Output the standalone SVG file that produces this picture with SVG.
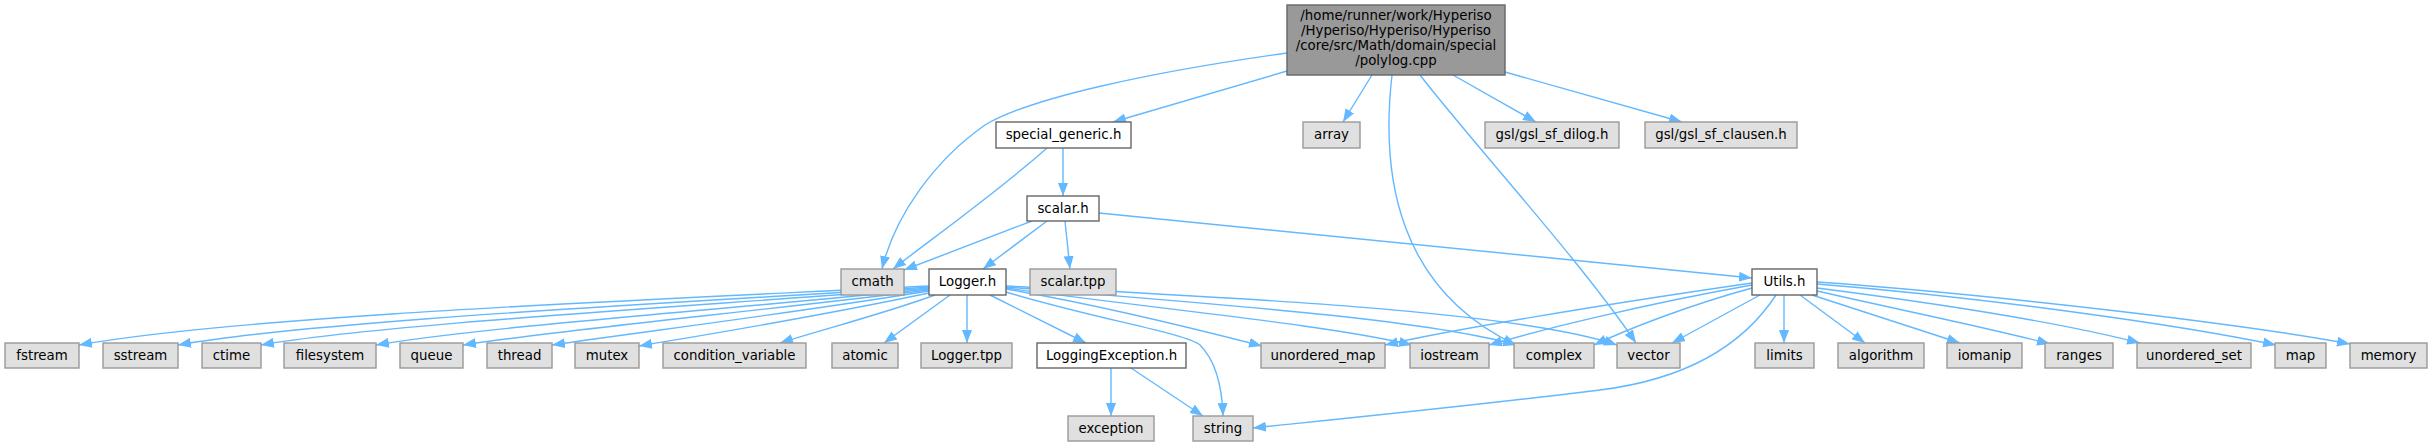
<svg xmlns="http://www.w3.org/2000/svg" width="2433" height="447" viewBox="0 0 2433 447">
<style>
text{font-family:"DejaVu Sans","Liberation Sans",sans-serif;font-size:13.33px;fill:#000;text-anchor:middle}
.w{fill:#ffffff;stroke:#666666;stroke-width:1.4}
.g{fill:#e0e0e0;stroke:#999999;stroke-width:1.4}
.m{fill:#999999;stroke:#666666;stroke-width:1.4}
.e{fill:none;stroke:#63b8ff;stroke-width:1.4;marker-end:url(#ah)}
</style>
<defs>
<marker id="ah" viewBox="0 0 13 10" refX="13" refY="5" markerWidth="13" markerHeight="10" markerUnits="userSpaceOnUse" orient="auto"><path d="M0,0 L13,5 L0,10 z" fill="#63b8ff"/></marker>
</defs>
<rect width="2433" height="447" fill="#ffffff"/>
<g id="connectors">
<path class="e" d="M1287,53 C1150,72 1030,98 985,125 C935,160 895,215 882,269"/>
<path class="e" d="M1287,71 L1113,122"/>
<path class="e" d="M1372,75 L1343,122"/>
<path class="e" d="M1392,75 C1380,180 1400,290 1516,345"/>
<path class="e" d="M1420,75 C1470,140 1580,260 1636,343"/>
<path class="e" d="M1453,75 L1536,122"/>
<path class="e" d="M1505,72 L1682,122"/>
<path class="e" d="M1047,148 C1000,190 930,240 893,269"/>
<path class="e" d="M1063,148 L1063,196"/>
<path class="e" d="M1032,221 L904,270"/>
<path class="e" d="M1047,221 L983,269"/>
<path class="e" d="M1065,221 L1070,269"/>
<path class="e" d="M1099,213 L1752,278"/>
<path class="e" d="M929,286 C650,300 250,315 79,345"/>
<path class="e" d="M929,287 C680,303 320,320 178,345"/>
<path class="e" d="M929,288 C700,306 380,324 261,345"/>
<path class="e" d="M929,289 C720,310 480,327 376,345"/>
<path class="e" d="M929,290 C750,312 560,330 463,345"/>
<path class="e" d="M929,291 C780,315 640,332 552,345"/>
<path class="e" d="M929,293 C810,318 710,334 639,346"/>
<path class="e" d="M935,295 C880,315 820,330 780,343"/>
<path class="e" d="M950,295 L884,343"/>
<path class="e" d="M967,295 L967,343"/>
<path class="e" d="M990,295 L1086,343"/>
<path class="e" d="M1006,292 C1100,320 1185,333 1200,345 C1215,360 1222,385 1223,416"/>
<path class="e" d="M1006,289 C1100,305 1200,330 1262,346"/>
<path class="e" d="M1006,288 C1150,308 1330,325 1412,345"/>
<path class="e" d="M1006,287 C1200,303 1420,318 1516,345"/>
<path class="e" d="M1006,286 C1250,298 1520,312 1617,345"/>
<path class="e" d="M1111,368 L1111,416"/>
<path class="e" d="M1131,368 L1203,416"/>
<path class="e" d="M1752,283 C1600,305 1450,330 1385,345"/>
<path class="e" d="M1752,285 C1640,305 1540,330 1489,345"/>
<path class="e" d="M1752,288 C1690,305 1630,328 1594,345"/>
<path class="e" d="M1760,295 L1672,343"/>
<path class="e" d="M1776,295 C1740,350 1680,380 1600,390 C1480,405 1330,420 1253,428"/>
<path class="e" d="M1784,295 L1784,343"/>
<path class="e" d="M1800,295 L1865,343"/>
<path class="e" d="M1812,295 L1960,343"/>
<path class="e" d="M1817,291 C1900,310 1990,328 2050,344"/>
<path class="e" d="M1817,288 C1950,305 2070,325 2140,343"/>
<path class="e" d="M1817,284 C1990,298 2180,325 2276,345"/>
<path class="e" d="M1817,282 C2000,295 2250,325 2350,344"/>
</g>
<g id="n_main"><rect class="m" x="1287" y="5" width="218" height="70"/><text x="1396" y="20">/home/runner/work/Hyperiso</text><text x="1396" y="35">/Hyperiso/Hyperiso/Hyperiso</text><text x="1396" y="50">/core/src/Math/domain/special</text><text x="1396" y="65">/polylog.cpp</text></g>
<g id="n_special_generic"><rect class="w" x="996" y="122" width="135" height="26"/><text x="1063.5" y="139">special_generic.h</text></g>
<g id="n_array"><rect class="g" x="1303" y="122" width="57" height="26"/><text x="1331.5" y="139">array</text></g>
<g id="n_gsl_dilog"><rect class="g" x="1485" y="122" width="134" height="26"/><text x="1552" y="139">gsl/gsl_sf_dilog.h</text></g>
<g id="n_gsl_clausen"><rect class="g" x="1645" y="122" width="152" height="26"/><text x="1721" y="139">gsl/gsl_sf_clausen.h</text></g>
<g id="n_scalar_h"><rect class="w" x="1027" y="196" width="72" height="25"/><text x="1063" y="212.5">scalar.h</text></g>
<g id="n_cmath"><rect class="g" x="841" y="269" width="63" height="26"/><text x="872.5" y="286">cmath</text></g>
<g id="n_logger_h"><rect class="w" x="929" y="269" width="77" height="26"/><text x="967.5" y="286">Logger.h</text></g>
<g id="n_scalar_tpp"><rect class="g" x="1030" y="269" width="86" height="26"/><text x="1073" y="286">scalar.tpp</text></g>
<g id="n_utils_h"><rect class="w" x="1752" y="269" width="65" height="26"/><text x="1784.5" y="286">Utils.h</text></g>
<g id="n_fstream"><rect class="g" x="5" y="343" width="74" height="25"/><text x="42" y="359.5">fstream</text></g>
<g id="n_sstream"><rect class="g" x="103" y="343" width="75" height="25"/><text x="140.5" y="359.5">sstream</text></g>
<g id="n_ctime"><rect class="g" x="202" y="343" width="59" height="25"/><text x="231.5" y="359.5">ctime</text></g>
<g id="n_filesystem"><rect class="g" x="284" y="343" width="92" height="25"/><text x="330" y="359.5">filesystem</text></g>
<g id="n_queue"><rect class="g" x="400" y="343" width="63" height="25"/><text x="431.5" y="359.5">queue</text></g>
<g id="n_thread"><rect class="g" x="487" y="343" width="65" height="25"/><text x="519.5" y="359.5">thread</text></g>
<g id="n_mutex"><rect class="g" x="575" y="343" width="64" height="25"/><text x="607" y="359.5">mutex</text></g>
<g id="n_condition_variable"><rect class="g" x="663" y="343" width="143" height="25"/><text x="734.5" y="359.5">condition_variable</text></g>
<g id="n_atomic"><rect class="g" x="832" y="343" width="66" height="25"/><text x="865" y="359.5">atomic</text></g>
<g id="n_logger_tpp"><rect class="g" x="921" y="343" width="91" height="25"/><text x="966.5" y="359.5">Logger.tpp</text></g>
<g id="n_logging_exception"><rect class="w" x="1037" y="343" width="149" height="25"/><text x="1111.5" y="359.5">LoggingException.h</text></g>
<g id="n_unordered_map"><rect class="g" x="1261" y="343" width="124" height="25"/><text x="1323" y="359.5">unordered_map</text></g>
<g id="n_iostream"><rect class="g" x="1410" y="343" width="79" height="25"/><text x="1449.5" y="359.5">iostream</text></g>
<g id="n_complex"><rect class="g" x="1514" y="343" width="80" height="25"/><text x="1554" y="359.5">complex</text></g>
<g id="n_vector"><rect class="g" x="1617" y="343" width="63" height="25"/><text x="1648.5" y="359.5">vector</text></g>
<g id="n_limits"><rect class="g" x="1755" y="343" width="59" height="25"/><text x="1784.5" y="359.5">limits</text></g>
<g id="n_algorithm"><rect class="g" x="1838" y="343" width="86" height="25"/><text x="1881" y="359.5">algorithm</text></g>
<g id="n_iomanip"><rect class="g" x="1947" y="343" width="75" height="25"/><text x="1984.5" y="359.5">iomanip</text></g>
<g id="n_ranges"><rect class="g" x="2045" y="343" width="68" height="25"/><text x="2079" y="359.5">ranges</text></g>
<g id="n_unordered_set"><rect class="g" x="2137" y="343" width="114" height="25"/><text x="2194" y="359.5">unordered_set</text></g>
<g id="n_map"><rect class="g" x="2275" y="343" width="51" height="25"/><text x="2300.5" y="359.5">map</text></g>
<g id="n_memory"><rect class="g" x="2350" y="343" width="77" height="25"/><text x="2388.5" y="359.5">memory</text></g>
<g id="n_exception"><rect class="g" x="1068" y="416" width="86" height="25"/><text x="1111" y="432.5">exception</text></g>
<g id="n_string"><rect class="g" x="1193" y="416" width="60" height="25"/><text x="1223" y="432.5">string</text></g>
</svg>
